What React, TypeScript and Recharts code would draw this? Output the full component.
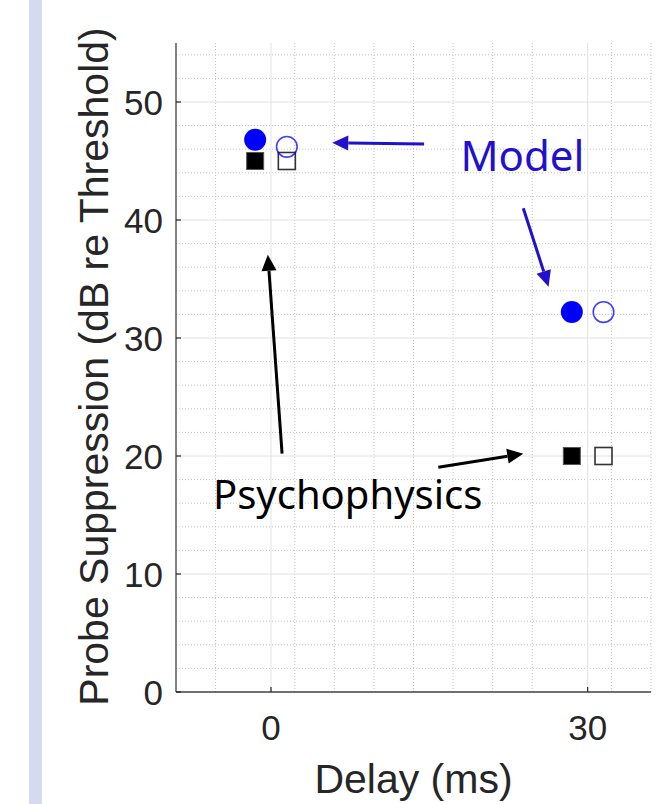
import React from 'react';
import {
  ScatterChart,
  Scatter,
  XAxis,
  YAxis,
  CartesianGrid,
  ReferenceLine,
  ReferenceDot,
} from 'recharts';

// delay positions are offset slightly so the two markers at each delay sit side by side
const modelFilled = [
  { x: -1.5, y: 46.8 },
  { x: 28.5, y: 32.2 },
];
const modelOpen = [
  { x: 1.5, y: 46.2 },
  { x: 31.5, y: 32.2 },
];
const psychFilled = [
  { x: -1.5, y: 45 },
  { x: 28.5, y: 20 },
];
const psychOpen = [
  { x: 1.5, y: 45 },
  { x: 31.5, y: 20 },
];

const xTicks = [0, 30];
const yTicks = [0, 10, 20, 30, 40, 50];
const xMinor = [-5.25, 2.25, 6, 9.75, 13.5, 17.25, 21, 24.75, 32.25, 36];
const yMinor = [2, 4, 6, 8, 12, 14, 16, 18, 22, 24, 26, 28, 32, 34, 36, 38, 42, 44, 46, 48, 52, 54];

// annotation arrows: [tail, tip] in data units
const modelArrows = [
  [{ x: 14.5, y: 46.45 }, { x: 5.8, y: 46.55 }],
  [{ x: 23.9, y: 41.0 }, { x: 26.3, y: 34.35 }],
];
const psychArrows = [
  [{ x: 1.05, y: 20.2 }, { x: -0.3, y: 37.05 }],
  [{ x: 15.85, y: 19.05 }, { x: 23.9, y: 20.2 }],
];

const AXIS = '#262626';
const FONT = '"Liberation Sans", Arial, Helvetica, sans-serif';
const NOTE_FONT = '"Noto Sans", "Open Sans", sans-serif';
const BLUE = '#0000ff';
const NOTE_BLUE = '#2211cc';

const YTick = (props: any) => {
  const { x, y, payload } = props;
  return (
    <g>
      <line x1={x + 13} y1={y} x2={x + 18} y2={y} stroke={AXIS} strokeWidth={1.2} />
      <text x={x} y={y} dy="0.36em" textAnchor="end" fontSize={35} fill={AXIS} fontFamily={FONT}>
        {payload.value}
      </text>
    </g>
  );
};

const XTick = (props: any) => {
  const { x, y, payload } = props;
  return (
    <g>
      <line x1={x} y1={y - 23} x2={x} y2={y - 28} stroke={AXIS} strokeWidth={1.2} />
      <text x={x} y={y} dy="0.72em" textAnchor="middle" fontSize={35} fill={AXIS} fontFamily={FONT}>
        {payload.value}
      </text>
    </g>
  );
};

const arrowShape = (color: string) => (props: any) => {
  const { x1, y1, x2, y2 } = props;
  if ([x1, y1, x2, y2].some((v) => v == null || isNaN(v))) return <g />;
  const dx = x2 - x1;
  const dy = y2 - y1;
  const len = Math.sqrt(dx * dx + dy * dy);
  const ux = dx / len;
  const uy = dy / len;
  const headLen = 16;
  const headW = 7.5;
  const bx = x2 - ux * headLen;
  const by = y2 - uy * headLen;
  const pts = `${x2},${y2} ${bx - uy * headW},${by + ux * headW} ${bx + uy * headW},${by - ux * headW}`;
  return (
    <g>
      <line x1={x1} y1={y1} x2={bx} y2={by} stroke={color} strokeWidth={3} />
      <polygon points={pts} fill={color} />
    </g>
  );
};

const noteText = (text: string, color: string, size: number) => (props: any) => {
  const { cx, cy } = props;
  return (
    <text x={cx} y={cy} fontSize={size} fill={color} fontFamily={NOTE_FONT}>
      {text}
    </text>
  );
};

const filledCircle = (props: any) => (
  <circle cx={props.cx} cy={props.cy} r={11} fill={BLUE} />
);
const openCircle = (props: any) => (
  <circle cx={props.cx} cy={props.cy} r={10.3} fill="none" stroke={BLUE} strokeOpacity={0.75} strokeWidth={1.6} />
);
const filledSquare = (props: any) => (
  <rect x={props.cx - 8.5} y={props.cy - 8.5} width={17} height={17} fill="#000" stroke="#555" strokeWidth={1} />
);
const openSquare = (props: any) => (
  <rect x={props.cx - 8.5} y={props.cy - 8.5} width={17} height={17} fill="none" stroke="#333" strokeWidth={1.6} />
);

export default function App() {
  return (
    <div style={{ position: 'absolute', left: 0, top: 0, width: 661, height: 804, background: '#fff' }}>
      <div style={{ position: 'absolute', left: 29, top: 0, width: 13, height: 804, background: '#d5d9f2' }} />
      <ScatterChart
        width={661}
        height={804}
        margin={{ top: 43, right: 10, left: 116, bottom: 62 }}
        style={{ position: 'absolute', left: 0, top: 0 }}
      >
        <CartesianGrid
          horizontalValues={yMinor}
          verticalValues={xMinor}
          stroke="#c4c4c4"
          strokeDasharray="1 2"
        />
        <CartesianGrid horizontalValues={yTicks.slice(1)} verticalValues={xTicks} stroke="#e2e2e2" />
        <XAxis
          type="number"
          dataKey="x"
          domain={[-9, 36]}
          ticks={xTicks}
          height={50}
          tickSize={0}
          tickMargin={23}
          tickLine={false}
          axisLine={{ stroke: '#404040', strokeWidth: 1.3 }}
          tick={XTick}
          allowDataOverflow
          label={{
            content: (p: any) => {
              const vb = p.viewBox;
              return (
                <text x={vb.x + vb.width / 2} y={vb.y + 101} textAnchor="middle" fontSize={41} fill={AXIS} fontFamily={FONT}>
                  Delay (ms)
                </text>
              );
            },
          }}
        />
        <YAxis
          type="number"
          dataKey="y"
          domain={[0, 55]}
          ticks={yTicks}
          width={60}
          tickSize={0}
          tickMargin={13}
          tickLine={false}
          axisLine={{ stroke: '#404040', strokeWidth: 1.3 }}
          tick={YTick}
          allowDataOverflow
          label={{
            content: (p: any) => {
              const vb = p.viewBox;
              const lx = vb.x - 8;
              const ly = vb.y + vb.height / 2 - 1;
              return (
                <text
                  x={lx}
                  y={ly}
                  transform={`rotate(-90 ${lx} ${ly})`}
                  textAnchor="middle"
                  fontSize={41}
                  fill={AXIS}
                  fontFamily={FONT}
                >
                  Probe Suppression (dB re Threshold)
                </text>
              );
            },
          }}
        />
        <Scatter data={psychOpen} shape={openSquare} isAnimationActive={false} />
        <Scatter data={psychFilled} shape={filledSquare} isAnimationActive={false} />
        <Scatter data={modelFilled} shape={filledCircle} isAnimationActive={false} />
        <Scatter data={modelOpen} shape={openCircle} isAnimationActive={false} />
        {modelArrows.map((seg, i) => (
          <ReferenceLine key={`m${i}`} segment={seg} shape={arrowShape(NOTE_BLUE)} ifOverflow="visible" />
        ))}
        {psychArrows.map((seg, i) => (
          <ReferenceLine key={`p${i}`} segment={seg} shape={arrowShape('#000')} ifOverflow="visible" />
        ))}
        <ReferenceDot x={17.95} y={44.15} shape={noteText('Model', NOTE_BLUE, 42)} ifOverflow="visible" />
        <ReferenceDot x={-5.5} y={15.55} shape={noteText('Psychophysics', '#000', 40)} ifOverflow="visible" />
      </ScatterChart>
    </div>
  );
}
